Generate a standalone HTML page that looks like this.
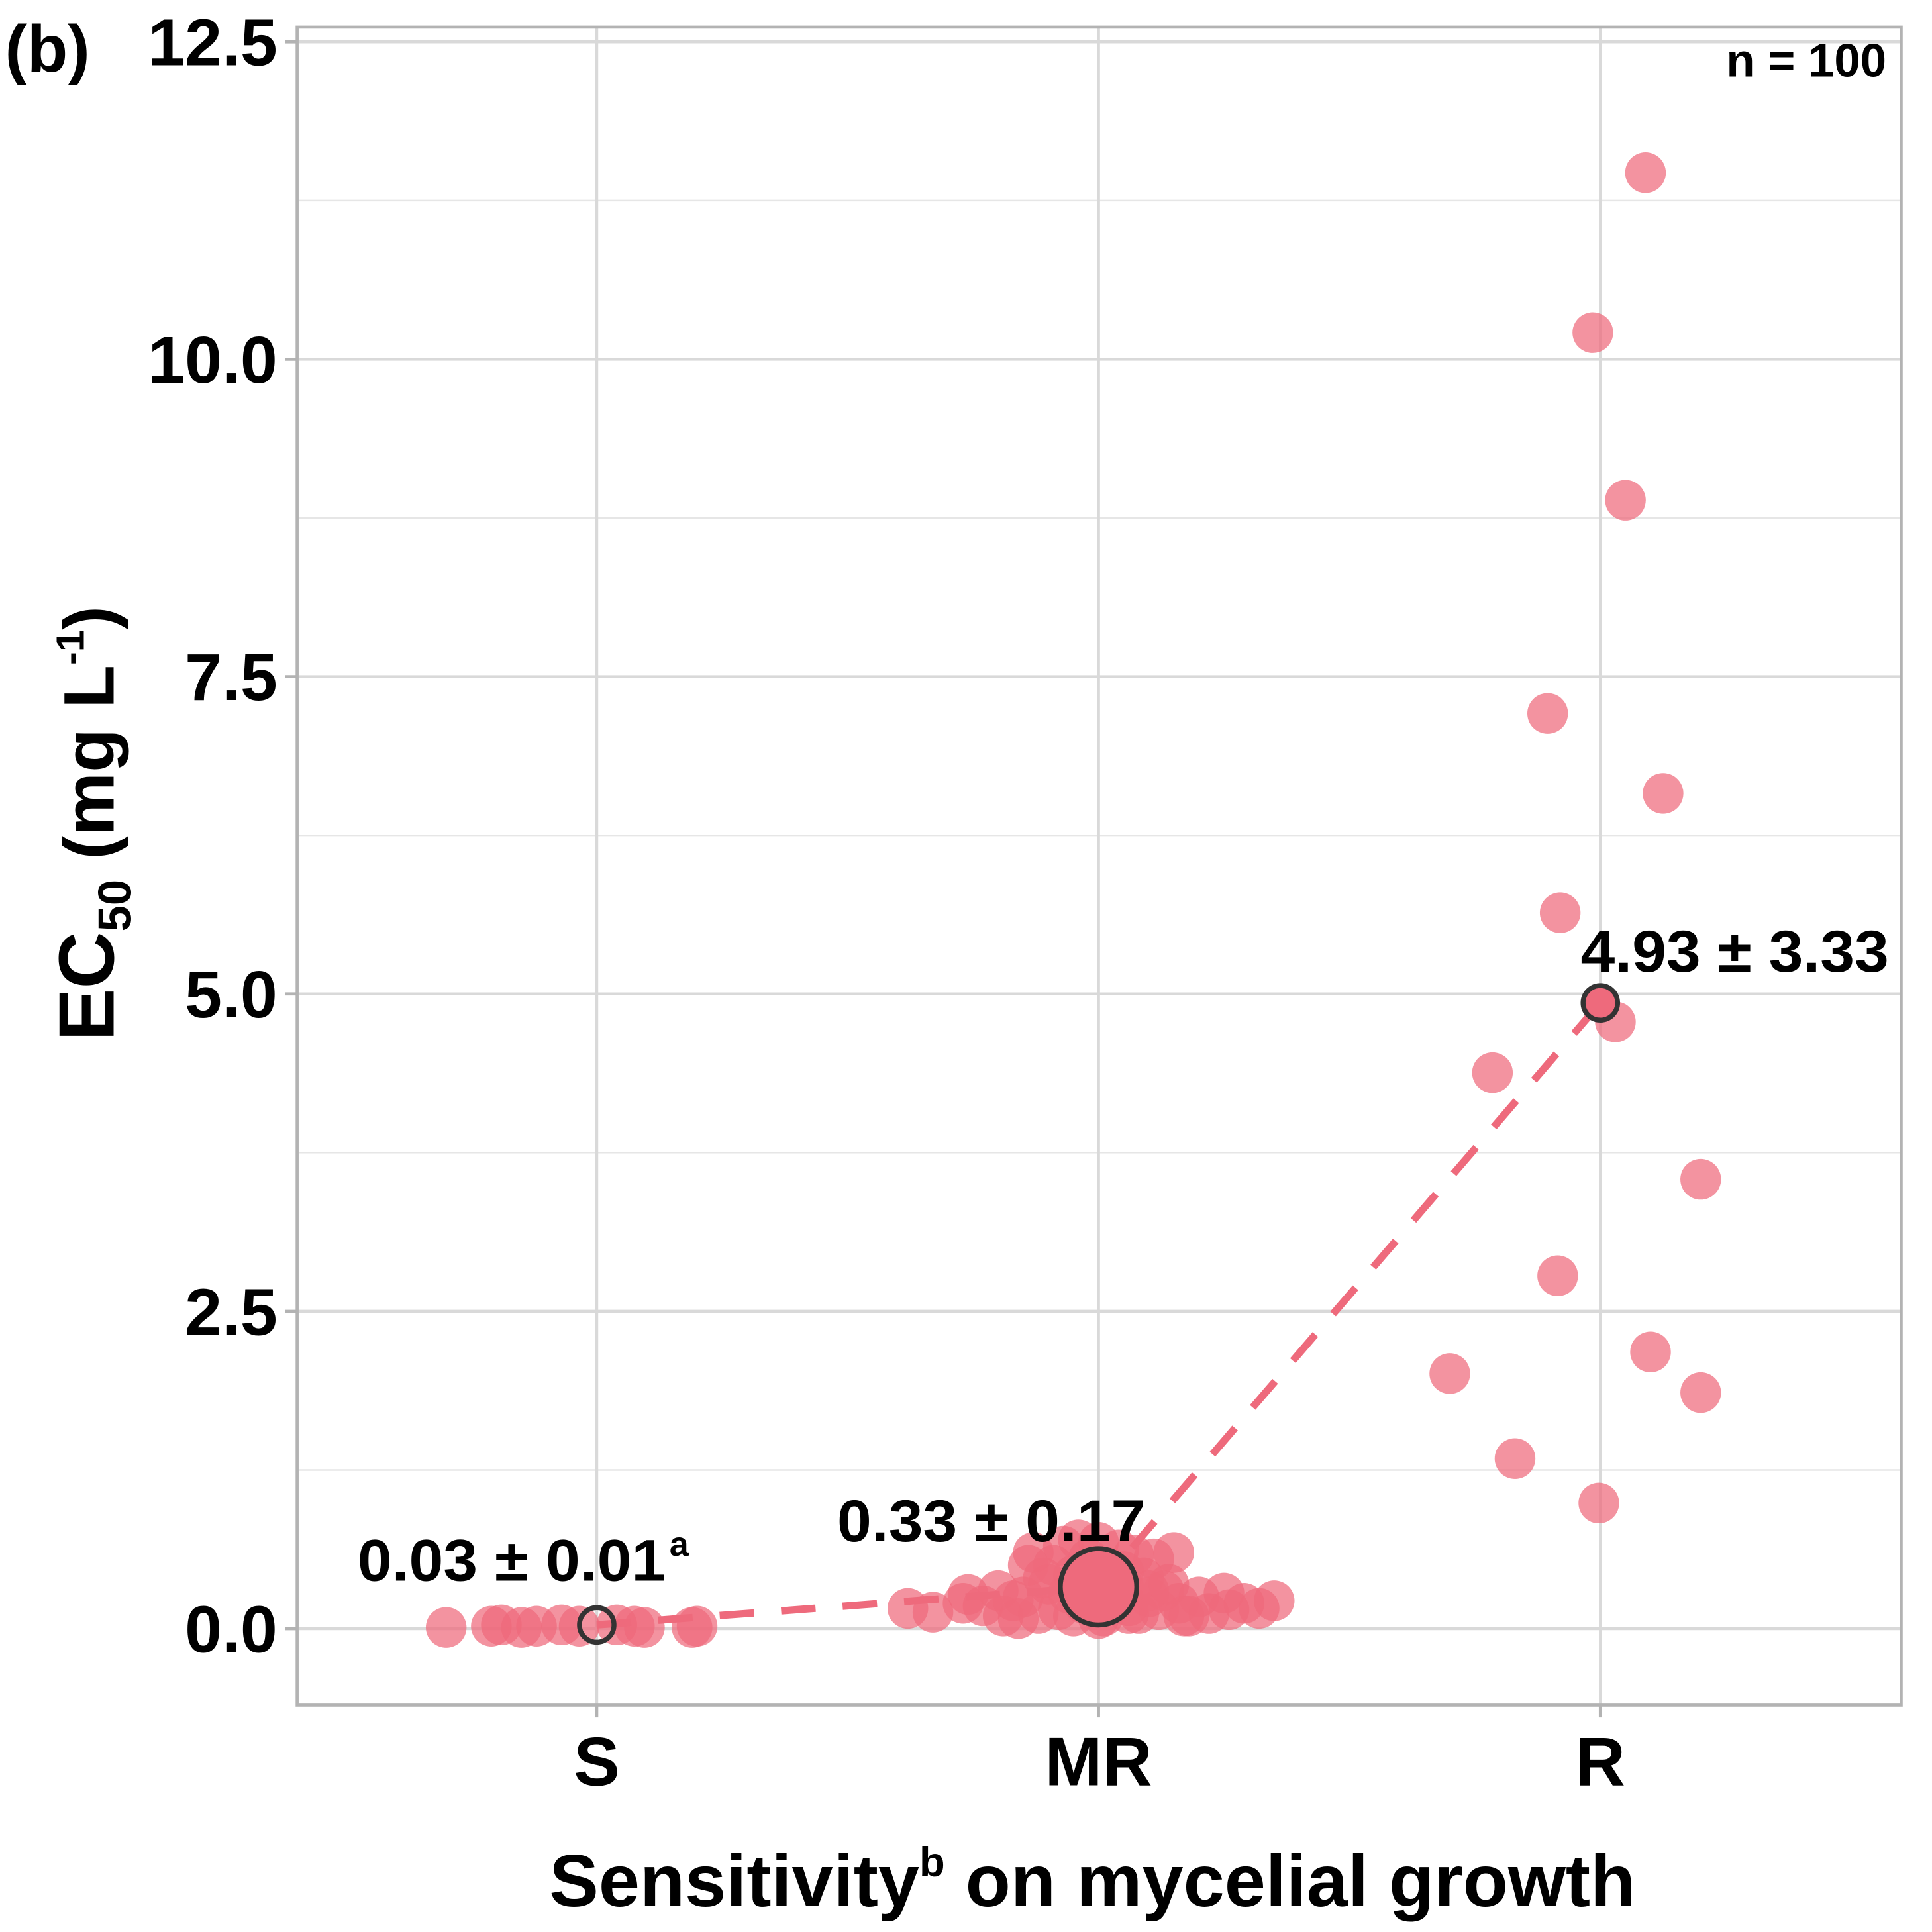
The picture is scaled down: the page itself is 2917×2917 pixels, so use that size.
<!DOCTYPE html>
<html><head><meta charset="utf-8"><style>
html,body{margin:0;padding:0;background:#fff;}
svg{display:block;}
text{font-family:"Liberation Sans",sans-serif;font-weight:bold;fill:#000;}
</style></head><body>
<svg id="chart" width="2917" height="2917" viewBox="0 0 1567 1567" preserveAspectRatio="none" xmlns="http://www.w3.org/2000/svg">
<g id="grid"></g>
<g id="axes"></g>
<g id="marks"></g>
<g id="labels"></g>
</svg>
<script>
const categories = ["S","MR","R"];
const yTicks = [0, 2.5, 5, 7.5, 10, 12.5];
const yTickLabels = ["0.0","2.5","5.0","7.5","10.0","12.5"];
const meanValues = [0.03, 0.33, 4.93];
const meanLabels = ["0.03 ± 0.01", "0.33 ± 0.17", "4.93 ± 3.33"];
const sJitter = [-0.30,-0.21,-0.19,-0.15,-0.12,-0.07,-0.035,0.04,0.075,0.095,0.19,0.2];
const sValues = [0.01,0.02,0.03,0.01,0.02,0.03,0.02,0.03,0.02,0.01,0.01,0.02];
const mrJitter = [-0.38,-0.33,-0.27,-0.26,-0.23,-0.2,-0.19,-0.17,-0.15,-0.13,-0.12,-0.1,-0.09,-0.08,-0.07,-0.06,-0.05,-0.04,-0.03,-0.02,-0.01,0,0.01,0.02,0.03,0.04,0.05,0.06,0.07,0.08,0.09,0.1,0.11,0.12,0.13,0.15,0.16,0.18,0.2,0.22,0.25,0.26,0.29,0.32,0.35,-0.16,-0.11,-0.05,0.0,0.05,0.1,0.14,-0.14,0.06,-0.02,0.17];
const mrValues = [0.16,0.13,0.2,0.27,0.18,0.3,0.1,0.22,0.25,0.6,0.12,0.35,0.5,0.15,0.65,0.28,0.42,0.7,0.2,0.55,0.38,0.68,0.1,0.48,0.22,0.62,0.33,0.18,0.58,0.12,0.4,0.25,0.55,0.15,0.3,0.6,0.2,0.1,0.25,0.12,0.28,0.15,0.2,0.16,0.22,0.08,0.4,0.1,0.08,0.45,0.3,0.35,0.5,0.12,0.2,0.1];
const rJitter = [0.09,-0.015,0.05,-0.105,0.125,-0.08,0.03,-0.215,0.2,-0.085,0.1,-0.3,0.2,-0.17,-0.003];
const rValues = [11.47,10.21,8.89,7.21,6.58,5.64,4.78,4.38,3.54,2.78,2.18,2.01,1.86,1.34,0.99];

const NS="http://www.w3.org/2000/svg";
const L=241,R=1542,T=22,B=1383;
const xPos=i=>484+i*407;
const yPos=v=>1321-v*102.96;
function el(tag,attrs,parent,txt){const e=document.createElementNS(NS,tag);for(const k in attrs)e.setAttribute(k,attrs[k]);if(txt!==undefined)e.textContent=txt;parent.appendChild(e);return e;}
const grid=document.getElementById('grid'),axes=document.getElementById('axes'),marks=document.getElementById('marks'),labels=document.getElementById('labels');
el('rect',{x:L,y:T,width:R-L,height:B-T,fill:'#fff'},grid);
for(let k=0;k<yTicks.length;k++){
  const y=yPos(yTicks[k]);
  const g=el('line',{x1:L,x2:R,y1:y,y2:y,stroke:'#d9d9d9','stroke-width':2.4},grid);
  
  
  if(k<yTicks.length-1){const ym=yPos(yTicks[k]+1.25);
    const gm=el('line',{x1:L,x2:R,y1:ym,y2:ym,stroke:'#e6e6e6','stroke-width':1.3},grid);
    
    }
  el('line',{x1:L-10,x2:L,y1:y,y2:y,stroke:'#b3b3b3','stroke-width':2.5},axes);
  const t=el('text',{x:L-16,y:y+19,'text-anchor':'end','font-size':54},axes,yTickLabels[k]);
  
  
}
for(let i=0;i<categories.length;i++){
  const x=xPos(i);
  const g=el('line',{x1:x,x2:x,y1:T,y2:B,stroke:'#d9d9d9','stroke-width':2.4},grid);
  
  
  el('line',{x1:x,x2:x,y1:B,y2:B+10,stroke:'#b3b3b3','stroke-width':2.5},axes);
  const t=el('text',{x:x,y:1448,'text-anchor':'middle','font-size':56},axes,categories[i]);
  
  
}
el('rect',{x:L,y:T,width:R-L,height:B-T,fill:'none',stroke:'#b3b3b3','stroke-width':2.5},axes);
const col='#ee6a7c';
function dots(jit,vals,ci,name){for(let k=0;k<vals.length;k++){
  const c=el('circle',{cx:xPos(ci)+jit[k]*407,cy:yPos(vals[k]),r:16.5,fill:col,'fill-opacity':0.72},marks);
  
  }}
dots(sJitter,sValues,0,'s-point');
dots(mrJitter,mrValues,1,'mr-point');
dots(rJitter,rValues,2,'r-point');
let d='';for(let i=0;i<meanValues.length;i++)d+=(i?'L':'M')+xPos(i)+' '+yPos(meanValues[i]);
const ln=el('path',{d:d,fill:'none',stroke:col,'stroke-width':6,'stroke-dasharray':'28 22'},marks);


const mr=[14,31,14];
for(let i=0;i<meanValues.length;i++){
  const c=el('circle',{cx:xPos(i),cy:yPos(meanValues[i]),r:mr[i],fill:i==0?'none':col,stroke:'#333','stroke-width':4},marks);
  
  
}
const lp=[[290,1282],[679,1250],[1282,788]];
for(let i=0;i<3;i++){
  const t=el('text',{x:lp[i][0],y:lp[i][1],'font-size':48,textLength:250,lengthAdjust:'spacingAndGlyphs'},labels,meanLabels[i]);
  
  
}
const sup=el('text',{x:543,y:1262,'font-size':28},labels,'a');


const p=el('text',{x:4,y:58,'font-size':54},labels,'(b)');


const n=el('text',{x:1530,y:62,'font-size':38,'text-anchor':'end'},labels,'n = 100');


const xt=el('text',{x:886,y:1546,'font-size':60,'text-anchor':'middle'},labels);


xt.innerHTML='Sensitivity<tspan font-size="34" dy="-24">b</tspan><tspan dy="24"> on mycelial growth</tspan>';
const yt=el('text',{transform:'translate(92,668) rotate(-90)','font-size':64,'text-anchor':'middle'},labels);


yt.innerHTML='EC<tspan font-size="38" dy="14">50</tspan><tspan dy="-14" font-size="58"> (mg L</tspan><tspan font-size="32" dy="-24">-1</tspan><tspan dy="24" font-size="58">)</tspan>';
</script>
</body></html>
